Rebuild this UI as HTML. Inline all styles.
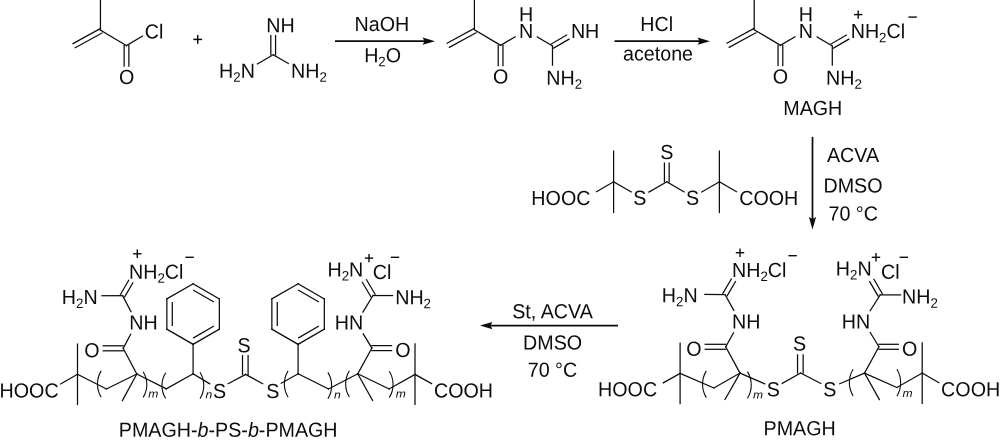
<!DOCTYPE html>
<html lang="en">
<head>
<meta charset="utf-8">
<title>Synthesis of PMAGH-b-PS-b-PMAGH</title>
<style>
html,body{margin:0;padding:0;background:#fff;}
body{width:1000px;height:444px;overflow:hidden;font-family:"Liberation Sans",sans-serif;}
svg{display:block;will-change:transform;}
svg text{font-family:"Liberation Sans",sans-serif;fill:#0c0c0c;stroke:none;white-space:pre;}
</style>
</head>
<body>
<svg width="1000" height="444" viewBox="0 0 1000 444" stroke="#0c0c0c" stroke-width="1.25" stroke-linecap="square" fill="none">
<rect x="0" y="0" width="1000" height="444" fill="#ffffff" stroke="none"/>
<line x1="100.45" y1="-1" x2="100.45" y2="30.3" stroke-linecap="butt"/>
<line x1="99.72" y1="28.95" x2="73.02" y2="43.55"/>
<line x1="101.98" y1="33.07" x2="75.28" y2="47.67"/>
<line x1="100.3" y1="30" x2="126.5" y2="45.6"/>
<line x1="128.88" y1="45.6" x2="128.88" y2="66"/>
<line x1="124.12" y1="45.6" x2="124.12" y2="66"/>
<text transform="translate(118.94,83.9) rotate(0.03) scale(1,1.035)" font-size="19.7">O</text>
<line x1="126.5" y1="45.6" x2="142.48" y2="36.09"/>
<text transform="translate(144.8,38.6) rotate(0.03) scale(1,1.035)" font-size="19.7">Cl</text>
<line x1="193.3" y1="39.4" x2="202.1" y2="39.4" stroke-width="1.5" stroke-linecap="butt"/>
<line x1="197.7" y1="35" x2="197.7" y2="43.8" stroke-width="1.5" stroke-linecap="butt"/>
<line x1="275.57" y1="35.6" x2="275.57" y2="54.8"/>
<line x1="270.82" y1="35.6" x2="270.82" y2="54.8"/>
<text transform="translate(266.18,32.15) rotate(0.03) scale(1,1.035)" font-size="19.7">NH</text>
<line x1="273.2" y1="54.8" x2="257.42" y2="63.9"/>
<line x1="273.2" y1="54.8" x2="288.29" y2="63.5"/>
<text transform="translate(219.06,77.8) rotate(0.03) scale(1,1.035)" font-size="19.7">H<tspan font-size="13.3" dy="3.9">2</tspan><tspan dy="-3.9" font-size="1">&#8203;</tspan>N</text>
<text transform="translate(291.08,77.8) rotate(0.03) scale(1,1.035)" font-size="19.7">NH<tspan font-size="13.3" dy="3.9">2</tspan><tspan dy="-3.9" font-size="1">&#8203;</tspan></text>
<line x1="335" y1="41.2" x2="425" y2="41.2" stroke-width="1.7" stroke-linecap="butt"/>
<path d="M435 41.2 L422.6 37.6 L424.5 41.2 L422.6 44.8 Z" fill="#0c0c0c" stroke="none"/>
<text transform="translate(381.9,30.9) rotate(0.03) scale(1,1.035)" font-size="19.7" text-anchor="middle">NaOH</text>
<text transform="translate(382.6,62.2) rotate(0.03) scale(1,1.035)" font-size="19.7" text-anchor="middle">H<tspan font-size="13.3" dy="3.9">2</tspan><tspan dy="-3.9" font-size="1">&#8203;</tspan>O</text>
<line x1="474.4" y1="-1" x2="474.4" y2="30" stroke-linecap="butt"/>
<line x1="473.82" y1="28.65" x2="447.12" y2="43.25"/>
<line x1="476.08" y1="32.77" x2="449.38" y2="47.37"/>
<line x1="474.4" y1="29.7" x2="500.6" y2="45.3"/>
<line x1="502.97" y1="45.3" x2="502.97" y2="65.7"/>
<line x1="498.22" y1="45.3" x2="498.22" y2="65.7"/>
<text transform="translate(493.04,83.6) rotate(0.03) scale(1,1.035)" font-size="19.7">O</text>
<line x1="500.6" y1="45.3" x2="515.16" y2="36.8"/>
<text transform="translate(518.98,38.1) rotate(0.03) scale(1,1.035)" font-size="19.7">N</text>
<text transform="translate(518.98,21.2) rotate(0.03) scale(1,1.035)" font-size="19.7">H</text>
<line x1="537.37" y1="36.93" x2="552.5" y2="46"/>
<line x1="551.31" y1="43.95" x2="566.61" y2="35.07"/>
<line x1="553.69" y1="48.05" x2="568.99" y2="39.18"/>
<line x1="552.5" y1="46" x2="552.5" y2="65.1"/>
<text transform="translate(570.88,38.1) rotate(0.03) scale(1,1.035)" font-size="19.7">NH</text>
<text transform="translate(546.28,84.7) rotate(0.03) scale(1,1.035)" font-size="19.7">NH<tspan font-size="13.3" dy="3.9">2</tspan><tspan dy="-3.9" font-size="1">&#8203;</tspan></text>
<line x1="614.5" y1="41.2" x2="700" y2="41.2" stroke-width="1.7" stroke-linecap="butt"/>
<path d="M710 41.2 L697.6 37.6 L699.5 41.2 L697.6 44.8 Z" fill="#0c0c0c" stroke="none"/>
<text transform="translate(656.6,30.9) rotate(0.03) scale(1,1.035)" font-size="19.7" text-anchor="middle">HCl</text>
<text transform="translate(658,60.4) rotate(0.03) scale(1,1.035)" font-size="19.7" text-anchor="middle">acetone</text>
<line x1="754.2" y1="-1" x2="754.2" y2="30" stroke-linecap="butt"/>
<line x1="753.62" y1="28.65" x2="726.92" y2="43.25"/>
<line x1="755.88" y1="32.77" x2="729.18" y2="47.37"/>
<line x1="754.2" y1="29.7" x2="780.4" y2="45.3"/>
<line x1="782.78" y1="45.3" x2="782.78" y2="65.7"/>
<line x1="778.03" y1="45.3" x2="778.03" y2="65.7"/>
<text transform="translate(772.84,83.6) rotate(0.03) scale(1,1.035)" font-size="19.7">O</text>
<line x1="780.4" y1="45.3" x2="794.96" y2="36.8"/>
<text transform="translate(798.78,38.1) rotate(0.03) scale(1,1.035)" font-size="19.7">N</text>
<text transform="translate(798.78,21.2) rotate(0.03) scale(1,1.035)" font-size="19.7">H</text>
<line x1="817.17" y1="36.93" x2="832.3" y2="46"/>
<line x1="831.11" y1="43.95" x2="846.41" y2="35.07"/>
<line x1="833.49" y1="48.05" x2="848.79" y2="39.18"/>
<line x1="832.3" y1="46" x2="832.3" y2="65.1"/>
<text transform="translate(850.68,38.1) rotate(0.03) scale(1,1.035)" font-size="19.7">NH<tspan font-size="13.3" dy="3.9">2</tspan><tspan dy="-3.9" font-size="1">&#8203;</tspan>Cl</text>
<text transform="translate(826.08,84.7) rotate(0.03) scale(1,1.035)" font-size="19.7">NH<tspan font-size="13.3" dy="3.9">2</tspan><tspan dy="-3.9" font-size="1">&#8203;</tspan></text>
<line x1="854" y1="14.6" x2="862.4" y2="14.6" stroke-width="1.4" stroke-linecap="butt"/>
<line x1="858.2" y1="10.4" x2="858.2" y2="18.8" stroke-width="1.4" stroke-linecap="butt"/>
<line x1="908.4" y1="17.1" x2="916.8" y2="17.1" stroke-width="1.4" stroke-linecap="butt"/>
<text transform="translate(812.8,115) rotate(0.03) scale(1,1.035)" font-size="19.7" text-anchor="middle">MAGH</text>
<line x1="812.5" y1="136.8" x2="812.5" y2="219.5" stroke-width="1.7" stroke-linecap="butt"/>
<path d="M812.5 229.5 L808.9 217.1 L812.5 219 L816.1 217.1 Z" fill="#0c0c0c" stroke="none"/>
<text transform="translate(853,162.1) rotate(0.03) scale(1,1.035)" font-size="19.7" text-anchor="middle">ACVA</text>
<text transform="translate(853,192.4) rotate(0.03) scale(1,1.035)" font-size="19.7" text-anchor="middle">DMSO</text>
<text transform="translate(853.2,220.6) rotate(0.03) scale(1,1.035)" font-size="19.7" text-anchor="middle">70 °C</text>
<line x1="613.6" y1="151.1" x2="613.6" y2="212.5"/>
<line x1="719.4" y1="151.1" x2="719.4" y2="212.5"/>
<line x1="613.6" y1="181.8" x2="596.59" y2="191.64"/>
<line x1="613.6" y1="181.8" x2="631.22" y2="191.99"/>
<line x1="648.9" y1="192.04" x2="666.8" y2="181.8"/>
<line x1="666.8" y1="181.8" x2="684.15" y2="191.95"/>
<line x1="701.78" y1="191.99" x2="719.4" y2="181.8"/>
<line x1="719.4" y1="181.8" x2="736.41" y2="191.64"/>
<line x1="664.42" y1="181.8" x2="664.42" y2="163.1"/>
<line x1="669.17" y1="181.8" x2="669.17" y2="163.1"/>
<text transform="translate(660.23,159.1) rotate(0.03) scale(1,1.035)" font-size="19.7">S</text>
<text transform="translate(633.18,204.7) rotate(0.03) scale(1,1.035)" font-size="19.7">S</text>
<text transform="translate(686.08,204.7) rotate(0.03) scale(1,1.035)" font-size="19.7">S</text>
<text transform="translate(531.35,205) rotate(0.03) scale(1,1.035)" font-size="19.7">HOOC</text>
<text transform="translate(739.2,205) rotate(0.03) scale(1,1.035)" font-size="19.7">COOH</text>
<line x1="680.1" y1="343.2" x2="680.1" y2="403.6"/>
<line x1="680.1" y1="373.4" x2="663.34" y2="382.81"/>
<text transform="translate(598.05,396.2) rotate(0.03) scale(1,1.035)" font-size="19.7">HOOC</text>
<line x1="680.1" y1="373.4" x2="713.9" y2="388"/>
<line x1="713.9" y1="388" x2="740" y2="373.1"/>
<path d="M706.3 370.9 A25.64 25.64 0 0 0 706.3 397.6" stroke-width="1.1" stroke-linecap="butt"/>
<path d="M747.5 371.6 A25.46 25.46 0 0 1 747.5 398.2" stroke-width="1.1" stroke-linecap="butt"/>
<text transform="translate(753.12,398.5) rotate(0.03) scale(1.1,1.035)" font-size="11"><tspan font-style="italic">m</tspan></text>
<line x1="740" y1="373.1" x2="725.7" y2="346.8"/>
<line x1="740" y1="373.1" x2="725" y2="399.4"/>
<line x1="725.7" y1="349.3" x2="705.2" y2="349.3"/>
<line x1="725.7" y1="344.3" x2="705.2" y2="344.3"/>
<text transform="translate(686.14,355.7) rotate(0.03) scale(1,1.035)" font-size="19.7">O</text>
<line x1="725.7" y1="346.8" x2="733.53" y2="332.75"/>
<line x1="733.81" y1="310.38" x2="725" y2="294.6"/>
<line x1="725" y1="294.6" x2="704.91" y2="294.5"/>
<line x1="722.89" y1="293.36" x2="731.29" y2="279.08"/>
<line x1="727.11" y1="295.84" x2="735.51" y2="281.56"/>
<text transform="translate(731.98,328.4) rotate(0.03) scale(1,1.035)" font-size="19.7">NH</text>
<text transform="translate(661.86,302.3) rotate(0.03) scale(1,1.035)" font-size="19.7">H<tspan font-size="13.3" dy="3.9">2</tspan><tspan dy="-3.9" font-size="1">&#8203;</tspan>N</text>
<text transform="translate(731.98,276.9) rotate(0.03) scale(1,1.035)" font-size="19.7">NH<tspan font-size="13.3" dy="3.9">2</tspan><tspan dy="-3.9" font-size="1">&#8203;</tspan>Cl</text>
<line x1="735.8" y1="252.7" x2="744.2" y2="252.7" stroke-width="1.4" stroke-linecap="butt"/>
<line x1="740" y1="248.5" x2="740" y2="256.9" stroke-width="1.4" stroke-linecap="butt"/>
<line x1="788.4" y1="255.7" x2="796.8" y2="255.7" stroke-width="1.4" stroke-linecap="butt"/>
<line x1="740" y1="373.1" x2="764.74" y2="383.86"/>
<text transform="translate(766.83,396.3) rotate(0.03) scale(1,1.035)" font-size="19.7">S</text>
<line x1="782.23" y1="383.3" x2="800.6" y2="373.1"/>
<line x1="797.55" y1="373.1" x2="797.55" y2="354.9"/>
<line x1="803.15" y1="373.1" x2="803.15" y2="354.9"/>
<text transform="translate(792.98,350.6) rotate(0.03) scale(1,1.035)" font-size="19.7">S</text>
<line x1="800.6" y1="373.1" x2="820.86" y2="383.52"/>
<text transform="translate(823.23,396.3) rotate(0.03) scale(1,1.035)" font-size="19.7">S</text>
<line x1="839.76" y1="383.76" x2="864.5" y2="373.1"/>
<path d="M853.1 369.3 A25.46 25.46 0 0 0 853.1 395.9" stroke-width="1.1" stroke-linecap="butt"/>
<line x1="864.5" y1="373.1" x2="896.9" y2="387.5"/>
<path d="M896.9 369.3 A26.18 26.18 0 0 1 896.9 396.3" stroke-width="1.1" stroke-linecap="butt"/>
<text transform="translate(902.62,397) rotate(0.03) scale(1.1,1.035)" font-size="11"><tspan font-style="italic">m</tspan></text>
<line x1="896.9" y1="387.5" x2="922.2" y2="373.1"/>
<line x1="922.2" y1="342.9" x2="922.2" y2="403.3"/>
<line x1="922.2" y1="373.1" x2="938.85" y2="382.7"/>
<text transform="translate(941.1,396.2) rotate(0.03) scale(1,1.035)" font-size="19.7">COOH</text>
<line x1="864.5" y1="373.1" x2="878.9" y2="346.8"/>
<line x1="864.5" y1="373.1" x2="879.4" y2="399.6"/>
<line x1="878.9" y1="344.3" x2="898.3" y2="344.3"/>
<line x1="878.9" y1="349.3" x2="898.3" y2="349.3"/>
<text transform="translate(902.04,355.7) rotate(0.03) scale(1,1.035)" font-size="19.7">O</text>
<line x1="878.9" y1="346.8" x2="870.27" y2="332.51"/>
<line x1="870.18" y1="310.74" x2="880.2" y2="294.9"/>
<line x1="880.2" y1="294.9" x2="900.59" y2="294.9"/>
<line x1="878.08" y1="296.13" x2="869.71" y2="281.69"/>
<line x1="882.32" y1="293.67" x2="873.94" y2="279.23"/>
<text transform="translate(841.75,328.4) rotate(0.03) scale(1,1.035)" font-size="19.7">HN</text>
<text transform="translate(901.98,303.6) rotate(0.03) scale(1,1.035)" font-size="19.7">NH<tspan font-size="13.3" dy="3.9">2</tspan><tspan dy="-3.9" font-size="1">&#8203;</tspan></text>
<text transform="translate(835.86,275.5) rotate(0.03) scale(1,1.035)" font-size="19.7">H<tspan font-size="13.3" dy="3.9">2</tspan><tspan dy="-3.9" font-size="1">&#8203;</tspan>N</text>
<line x1="871.8" y1="257.3" x2="880.2" y2="257.3" stroke-width="1.4" stroke-linecap="butt"/>
<line x1="876" y1="253.1" x2="876" y2="261.5" stroke-width="1.4" stroke-linecap="butt"/>
<text transform="translate(881.1,278.7) rotate(0.03) scale(1,1.035)" font-size="19.7">Cl</text>
<line x1="899.6" y1="257.3" x2="908" y2="257.3" stroke-width="1.4" stroke-linecap="butt"/>
<text transform="translate(799.6,435.2) rotate(0.03) scale(1,1.035)" font-size="19.7" text-anchor="middle">PMAGH</text>
<line x1="618" y1="325.6" x2="490" y2="325.6" stroke-width="1.7" stroke-linecap="butt"/>
<path d="M480 325.6 L492.4 322 L490.5 325.6 L492.4 329.2 Z" fill="#0c0c0c" stroke="none"/>
<text transform="translate(552.5,318.3) rotate(0.03) scale(1,1.035)" font-size="19.7" text-anchor="middle">St, ACVA</text>
<text transform="translate(552.6,349.4) rotate(0.03) scale(1,1.035)" font-size="19.7" text-anchor="middle">DMSO</text>
<text transform="translate(552.4,376.7) rotate(0.03) scale(1,1.035)" font-size="19.7" text-anchor="middle">70 °C</text>
<line x1="77.5" y1="344.1" x2="77.5" y2="404.5"/>
<line x1="77.5" y1="374.3" x2="60.71" y2="383.86"/>
<text transform="translate(-0.45,397.4) rotate(0.03) scale(1,1.035)" font-size="19.7">HOOC</text>
<line x1="77.5" y1="374.3" x2="106.4" y2="389"/>
<line x1="106.4" y1="389" x2="136.8" y2="374"/>
<path d="M101.2 370.9 A25.11 25.11 0 0 0 101.2 397.3" stroke-width="1.1" stroke-linecap="butt"/>
<path d="M143.1 371.7 A24.06 24.06 0 0 1 143.1 397.5" stroke-width="1.1" stroke-linecap="butt"/>
<text transform="translate(148.32,397.6) rotate(0.03) scale(1.1,1.035)" font-size="11"><tspan font-style="italic">m</tspan></text>
<line x1="136.8" y1="374" x2="123.2" y2="348.3"/>
<line x1="136.8" y1="374" x2="122.4" y2="400.6"/>
<line x1="123.2" y1="350.8" x2="103.2" y2="350.8"/>
<line x1="123.2" y1="345.8" x2="103.2" y2="345.8"/>
<text transform="translate(84.14,357.2) rotate(0.03) scale(1,1.035)" font-size="19.7">O</text>
<line x1="123.2" y1="348.3" x2="130.64" y2="334.36"/>
<line x1="131" y1="311.73" x2="122.6" y2="295.7"/>
<line x1="122.6" y1="295.7" x2="102.01" y2="295.7"/>
<line x1="120.48" y1="294.47" x2="128.66" y2="280.34"/>
<line x1="124.72" y1="296.93" x2="132.9" y2="282.8"/>
<text transform="translate(129.18,329.6) rotate(0.03) scale(1,1.035)" font-size="19.7">NH</text>
<text transform="translate(61.86,304) rotate(0.03) scale(1,1.035)" font-size="19.7">H<tspan font-size="13.3" dy="3.9">2</tspan><tspan dy="-3.9" font-size="1">&#8203;</tspan>N</text>
<text transform="translate(128.98,278.8) rotate(0.03) scale(1,1.035)" font-size="19.7">NH<tspan font-size="13.3" dy="3.9">2</tspan><tspan dy="-3.9" font-size="1">&#8203;</tspan>Cl</text>
<line x1="133.1" y1="253.8" x2="141.5" y2="253.8" stroke-width="1.4" stroke-linecap="butt"/>
<line x1="137.3" y1="249.6" x2="137.3" y2="258" stroke-width="1.4" stroke-linecap="butt"/>
<line x1="185.4" y1="257.3" x2="193.8" y2="257.3" stroke-width="1.4" stroke-linecap="butt"/>
<line x1="136.8" y1="374" x2="166.3" y2="388.8"/>
<path d="M165.7 372.8 A23.89 23.89 0 0 0 165.7 398.5" stroke-width="1.1" stroke-linecap="butt"/>
<line x1="166.3" y1="388.8" x2="193.1" y2="373.8"/>
<path d="M200 372.3 A25.11 25.11 0 0 1 200 398.7" stroke-width="1.1" stroke-linecap="butt"/>
<text transform="translate(205.62,398.3) rotate(0.03) scale(1.1,1.035)" font-size="11"><tspan font-style="italic">n</tspan></text>
<line x1="193.1" y1="283.75" x2="219.34" y2="298.9"/>
<line x1="219.34" y1="298.9" x2="219.34" y2="329.2"/>
<line x1="219.34" y1="329.2" x2="193.1" y2="344.35"/>
<line x1="193.1" y1="344.35" x2="166.86" y2="329.2"/>
<line x1="166.86" y1="329.2" x2="166.86" y2="298.9"/>
<line x1="166.86" y1="298.9" x2="193.1" y2="283.75"/>
<line x1="193.1" y1="290" x2="213.93" y2="302.03" stroke-linecap="butt"/>
<line x1="213.93" y1="326.07" x2="193.1" y2="338.1" stroke-linecap="butt"/>
<line x1="172.27" y1="326.07" x2="172.27" y2="302.03" stroke-linecap="butt"/>
<line x1="193.1" y1="373.8" x2="193.1" y2="344"/>
<line x1="193.1" y1="373.8" x2="209.68" y2="383.79"/>
<text transform="translate(213.03,397.9) rotate(0.03) scale(1,1.035)" font-size="19.7">S</text>
<line x1="228.14" y1="383.71" x2="245.6" y2="374.4"/>
<line x1="242.5" y1="374.4" x2="242.5" y2="355.7"/>
<line x1="248.1" y1="374.4" x2="248.1" y2="355.7"/>
<text transform="translate(237.43,352.3) rotate(0.03) scale(1,1.035)" font-size="19.7">S</text>
<line x1="245.6" y1="374.4" x2="262.66" y2="383.71"/>
<text transform="translate(266.13,397.9) rotate(0.03) scale(1,1.035)" font-size="19.7">S</text>
<line x1="281.23" y1="383.2" x2="298.1" y2="373.8"/>
<path d="M288.1 370.8 A25.11 25.11 0 0 0 288.1 397.2" stroke-width="1.1" stroke-linecap="butt"/>
<line x1="298.1" y1="283.75" x2="324.34" y2="298.9"/>
<line x1="324.34" y1="298.9" x2="324.34" y2="329.2"/>
<line x1="324.34" y1="329.2" x2="298.1" y2="344.35"/>
<line x1="298.1" y1="344.35" x2="271.86" y2="329.2"/>
<line x1="271.86" y1="329.2" x2="271.86" y2="298.9"/>
<line x1="271.86" y1="298.9" x2="298.1" y2="283.75"/>
<line x1="298.1" y1="290" x2="318.93" y2="302.03" stroke-linecap="butt"/>
<line x1="318.93" y1="326.07" x2="298.1" y2="338.1" stroke-linecap="butt"/>
<line x1="277.27" y1="326.07" x2="277.27" y2="302.03" stroke-linecap="butt"/>
<line x1="298.1" y1="373.8" x2="298.1" y2="344"/>
<line x1="298.1" y1="373.8" x2="328.5" y2="389"/>
<path d="M327.9 372.4 A25.11 25.11 0 0 1 327.9 398.8" stroke-width="1.1" stroke-linecap="butt"/>
<text transform="translate(334.12,398.5) rotate(0.03) scale(1.1,1.035)" font-size="11"><tspan font-style="italic">n</tspan></text>
<line x1="328.5" y1="389" x2="357.7" y2="373.8"/>
<path d="M349.4 370.8 A24.76 24.76 0 0 0 349.4 397" stroke-width="1.1" stroke-linecap="butt"/>
<line x1="357.7" y1="373.8" x2="389.1" y2="389"/>
<path d="M389.3 371.2 A25.11 25.11 0 0 1 389.3 397.6" stroke-width="1.1" stroke-linecap="butt"/>
<text transform="translate(395.72,397.4) rotate(0.03) scale(1.1,1.035)" font-size="11"><tspan font-style="italic">m</tspan></text>
<line x1="389.1" y1="389" x2="415" y2="374.4"/>
<line x1="415" y1="343.8" x2="415" y2="404.4"/>
<line x1="415" y1="374.4" x2="431.55" y2="383.57"/>
<text transform="translate(434,397.6) rotate(0.03) scale(1,1.035)" font-size="19.7">COOH</text>
<line x1="357.7" y1="373.8" x2="371.9" y2="348.1"/>
<line x1="357.7" y1="373.8" x2="372.6" y2="400.4"/>
<line x1="371.9" y1="345.6" x2="391.6" y2="345.6"/>
<line x1="371.9" y1="350.6" x2="391.6" y2="350.6"/>
<text transform="translate(395.34,357) rotate(0.03) scale(1,1.035)" font-size="19.7">O</text>
<line x1="371.9" y1="348.1" x2="363.24" y2="333.97"/>
<line x1="362.9" y1="312.12" x2="373" y2="295.55"/>
<line x1="373" y1="295.55" x2="392.59" y2="295.55"/>
<line x1="370.89" y1="296.8" x2="362.31" y2="282.26"/>
<line x1="375.11" y1="294.3" x2="366.52" y2="279.77"/>
<text transform="translate(334.85,329.6) rotate(0.03) scale(1,1.035)" font-size="19.7">HN</text>
<text transform="translate(395.18,304.3) rotate(0.03) scale(1,1.035)" font-size="19.7">NH<tspan font-size="13.3" dy="3.9">2</tspan><tspan dy="-3.9" font-size="1">&#8203;</tspan></text>
<text transform="translate(327.46,276.4) rotate(0.03) scale(1,1.035)" font-size="19.7">H<tspan font-size="13.3" dy="3.9">2</tspan><tspan dy="-3.9" font-size="1">&#8203;</tspan>N</text>
<line x1="364.8" y1="258.1" x2="373.2" y2="258.1" stroke-width="1.4" stroke-linecap="butt"/>
<line x1="369" y1="253.9" x2="369" y2="262.3" stroke-width="1.4" stroke-linecap="butt"/>
<text transform="translate(372.8,278.9) rotate(0.03) scale(1,1.035)" font-size="19.7">Cl</text>
<line x1="390.8" y1="257.3" x2="399.2" y2="257.3" stroke-width="1.4" stroke-linecap="butt"/>
<text transform="translate(228.2,436.8) rotate(0.03) scale(1,1.035)" font-size="19.7" text-anchor="middle">PMAGH-<tspan font-style="italic">b</tspan>-PS-<tspan font-style="italic">b</tspan>-PMAGH</text>
</svg>
</body>
</html>
